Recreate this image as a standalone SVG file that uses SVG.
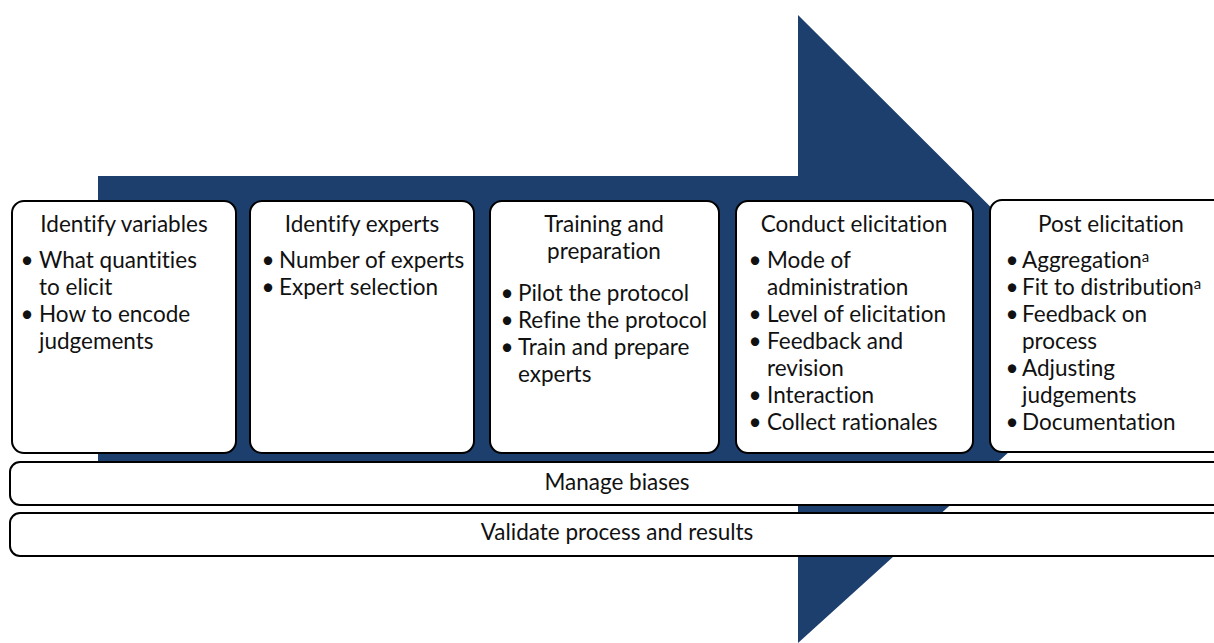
<svg xmlns="http://www.w3.org/2000/svg" width="1214" height="643" viewBox="0 0 1214 643">
<style>
.box{fill:#fff;stroke:#000;stroke-width:2}
.t{font-family:Lato,"Open Sans","Liberation Sans",sans-serif;font-size:22.5px;fill:#111;font-variant-ligatures:none;font-feature-settings:"liga" 0,"dlig" 0}
.c{text-anchor:middle}
.sup{font-size:15px}
</style>
<g id="arrow">
<polygon points="98,176 798,176 798,15 1128,344 798,643 798,461 98,461" fill="#1d3f6e"/>
</g>
<g id="node-identify-variables">
<rect class="box" x="12" y="201" width="224" height="252" rx="12"/>
<text class="t c" x="124" y="232">Identify variables</text>
<text class="t c" x="27" y="268">•</text><text class="t" x="39" y="268">What quantities</text>
<text class="t" x="39" y="295">to elicit</text>
<text class="t c" x="27" y="322">•</text><text class="t" x="39" y="322">How to encode</text>
<text class="t" x="39" y="349">judgements</text>
</g>
<g id="node-identify-experts">
<rect class="box" x="250" y="201" width="224" height="252" rx="12"/>
<text class="t c" x="362" y="232">Identify experts</text>
<text class="t c" x="268" y="268">•</text><text class="t" x="279" y="268">Number of experts</text>
<text class="t c" x="268" y="295">•</text><text class="t" x="279" y="295">Expert selection</text>
</g>
<g id="node-training">
<rect class="box" x="490" y="201" width="229" height="252" rx="12"/>
<text class="t c" x="604" y="232">Training and</text>
<text class="t c" x="604" y="259">preparation</text>
<text class="t c" x="507" y="301">•</text><text class="t" x="518" y="301">Pilot the protocol</text>
<text class="t c" x="507" y="328">•</text><text class="t" x="518" y="328">Refine the protocol</text>
<text class="t c" x="507" y="355">•</text><text class="t" x="518" y="355">Train and prepare</text>
<text class="t" x="518" y="382">experts</text>
</g>
<g id="node-conduct">
<rect class="box" x="736" y="201" width="237" height="252" rx="12"/>
<text class="t c" x="854" y="232">Conduct elicitation</text>
<text class="t c" x="755" y="268">•</text><text class="t" x="767" y="268">Mode of</text>
<text class="t" x="767" y="295">administration</text>
<text class="t c" x="755" y="322">•</text><text class="t" x="767" y="322">Level of elicitation</text>
<text class="t c" x="755" y="349">•</text><text class="t" x="767" y="349">Feedback and</text>
<text class="t" x="767" y="376">revision</text>
<text class="t c" x="755" y="403">•</text><text class="t" x="767" y="403">Interaction</text>
<text class="t c" x="755" y="430">•</text><text class="t" x="767" y="430">Collect rationales</text>
</g>
<g id="node-post">
<rect class="box" x="990" y="200" width="250" height="252" rx="12"/>
<text class="t c" x="1111" y="232">Post elicitation</text>
<text class="t c" x="1012" y="268">•</text><text class="t" x="1022" y="268">Aggregation<tspan class="sup" dy="-6">a</tspan></text>
<text class="t c" x="1012" y="295">•</text><text class="t" x="1022" y="295">Fit to distribution<tspan class="sup" dy="-6">a</tspan></text>
<text class="t c" x="1012" y="322">•</text><text class="t" x="1022" y="322">Feedback on</text>
<text class="t" x="1022" y="349">process</text>
<text class="t c" x="1012" y="376">•</text><text class="t" x="1022" y="376">Adjusting</text>
<text class="t" x="1022" y="403">judgements</text>
<text class="t c" x="1012" y="430">•</text><text class="t" x="1022" y="430">Documentation</text>
</g>
<g id="node-manage-biases">
<rect class="box" x="10" y="462" width="1230" height="43" rx="10"/>
<text class="t c" x="617" y="490">Manage biases</text>
</g>
<g id="node-validate">
<rect class="box" x="10" y="513" width="1230" height="43" rx="10"/>
<text class="t c" x="617" y="540">Validate process and results</text>
</g>
<g id="connectors"/>
</svg>
